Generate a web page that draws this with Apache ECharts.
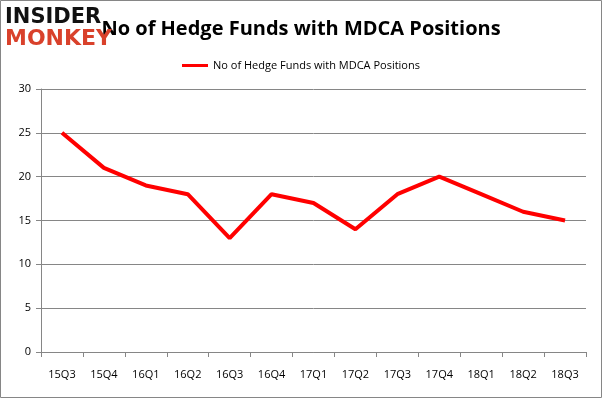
<!DOCTYPE html>
<html>
<head>
<meta charset="utf-8">
<script src="https://cdn.jsdelivr.net/npm/echarts@6/dist/echarts.min.js"></script>
<style>
  html, body { margin: 0; padding: 0; background: #fff; }
  #main { width: 602px; height: 398px; }
</style>
</head>
<body>
<div id="main"></div>
<script>
// data
var quarters = ['15Q3', '15Q4', '16Q1', '16Q2', '16Q3', '16Q4', '17Q1', '17Q2', '17Q3', '17Q4', '18Q1', '18Q2', '18Q3'];
var fundCounts = [25, 21, 19, 18, 13, 18, 17, 14, 18, 20, 18, 16, 15];
var seriesName = 'No of Hedge Funds with MDCA Positions';

var chart = echarts.init(document.getElementById('main'));

var option = {
    animation: false,
    backgroundColor: '#fff',
    title: {
        text: seriesName,
        left: 'center',
        top: 14,
        textStyle: {
            fontFamily: 'Open Sans',
            fontSize: 20,
            fontWeight: 'bold',
            color: '#000'
        }
    },
    legend: {
        top: 55,
        left: 'center',
        itemWidth: 26,
        itemHeight: 3,
        icon: 'rect',
        itemGap: 6,
        textStyle: { fontFamily: 'Open Sans', fontSize: 11, color: '#000' },
        data: [seriesName]
    },
    grid: {
        left: 41,
        right: 16,
        top: 89,
        bottom: 46
    },
    xAxis: {
        type: 'category',
        data: quarters,
        boundaryGap: true,
        axisLine: { lineStyle: { color: '#868686' } },
        axisTick: { show: true, length: 5, lineStyle: { color: '#868686' } },
        axisLabel: { color: '#000', fontFamily: 'Open Sans', fontSize: 11, margin: 17 }
    },
    yAxis: {
        type: 'value',
        min: 0,
        max: 30,
        interval: 5,
        axisLine: { show: true, lineStyle: { color: '#868686' } },
        axisTick: { show: true, length: 5, lineStyle: { color: '#868686' } },
        axisLabel: { color: '#000', fontFamily: 'Open Sans', fontSize: 11, margin: 10 },
        splitLine: { lineStyle: { color: '#868686' } }
    },
    series: [{
        name: seriesName,
        type: 'line',
        data: fundCounts,
        showSymbol: false,
        symbol: 'none',
        color: '#ff0000',
        lineStyle: { width: 4, color: '#ff0000' }
    }],
    graphic: [
        {
            type: 'rect',
            shape: { x: 0.5, y: 0.5, width: 601, height: 397 },
            style: { fill: 'none', stroke: '#868686', lineWidth: 1 }
        },
        {
            type: 'text',
            left: 5,
            top: 7,
            z: 100,
            style: {
                text: 'INSIDER',
                fontFamily: 'DejaVu Sans',
                fontWeight: 'bold',
                fontSize: 21,
                fill: '#111'
            }
        },
        {
            type: 'text',
            left: 5,
            top: 28,
            z: 100,
            style: {
                text: 'MONKEY',
                fontFamily: 'DejaVu Sans',
                fontWeight: 'bold',
                fontSize: 22,
                fill: '#d9412b'
            }
        }
    ]
};

chart.setOption(option);
</script>
</body>
</html>
